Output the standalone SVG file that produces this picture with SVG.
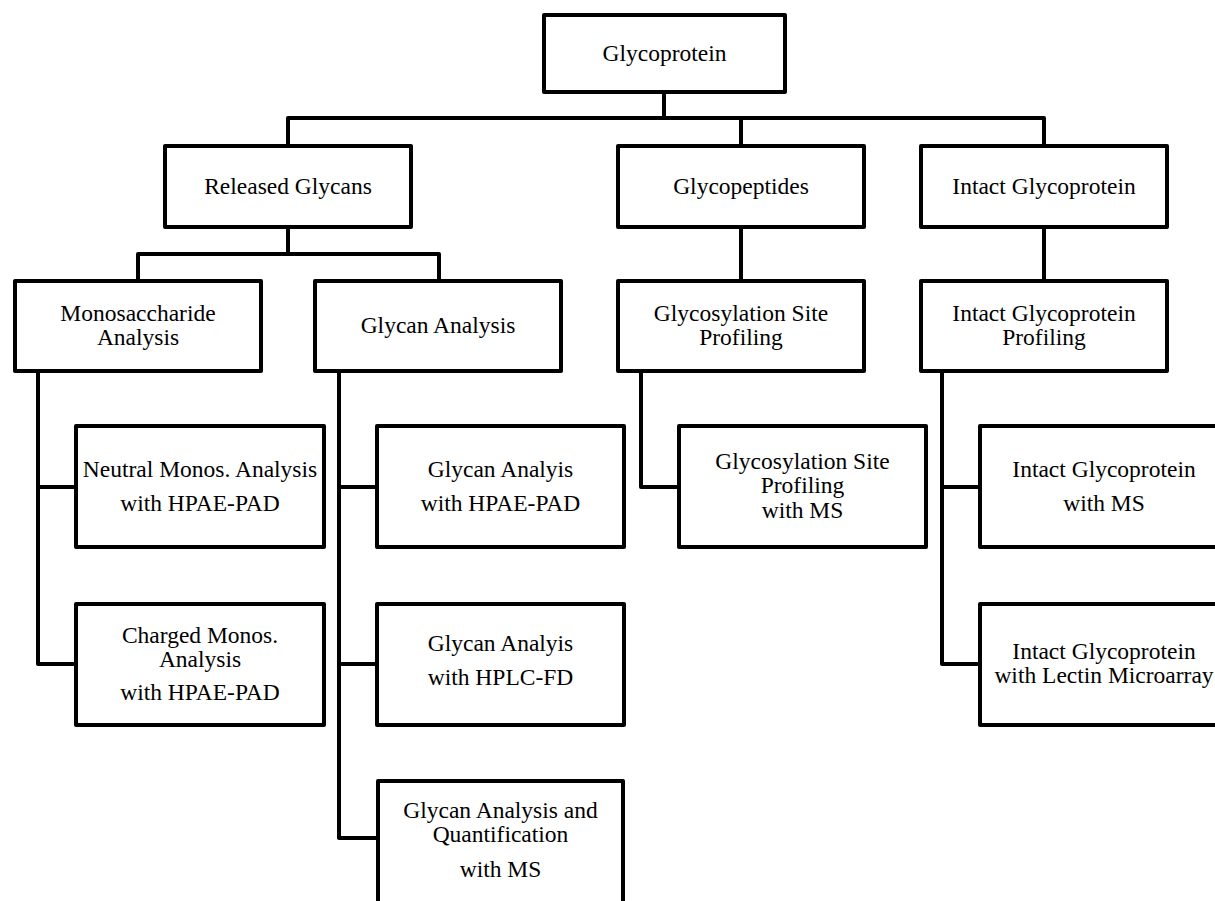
<svg xmlns="http://www.w3.org/2000/svg" width="1215" height="901" viewBox="0 0 1215 901">
<style>
.box{fill:#fff;stroke:#000;stroke-width:4;stroke-linejoin:round}
.ln{fill:none;stroke:#000;stroke-width:4;stroke-linejoin:round}
text{font-family:"Liberation Serif","Times New Roman",serif;font-size:23.5px;fill:#000;text-anchor:middle}
</style>
<rect width="1215" height="901" fill="#fff"/>
<g id="connectors" class="ln">
<path class="ln" d="M664 94V118"/>
<path class="ln" d="M288 144V118H1044V144"/>
<path class="ln" d="M741 118V144"/>
<path class="ln" d="M288 229V254"/>
<path class="ln" d="M138 279V254H439V279"/>
<path class="ln" d="M741 229V279"/>
<path class="ln" d="M1044 229V279"/>
<path class="ln" d="M38 373V664H76"/>
<path class="ln" d="M38 487H76"/>
<path class="ln" d="M339 373V838H377"/>
<path class="ln" d="M339 487H377"/>
<path class="ln" d="M339 664H377"/>
<path class="ln" d="M641 373V487H679"/>
<path class="ln" d="M942 373V664H980"/>
<path class="ln" d="M942 487H980"/>
</g>
<g id="glycoprotein"><rect class="box" x="544" y="15" width="241" height="77"/><text x="664.5" y="61">Glycoprotein</text></g>
<g id="released"><rect class="box" x="165" y="146" width="246" height="81"/><text x="288" y="194">Released Glycans</text></g>
<g id="glycopeptides"><rect class="box" x="618" y="146" width="246" height="81"/><text x="741" y="194">Glycopeptides</text></g>
<g id="intact"><rect class="box" x="921" y="146" width="246" height="81"/><text x="1044" y="194">Intact Glycoprotein</text></g>
<g id="mono"><rect class="box" x="15" y="281" width="246" height="90"/><text x="138" y="321">Monosaccharide</text><text x="138" y="345">Analysis</text></g>
<g id="glycan-analysis"><rect class="box" x="315" y="281" width="246" height="90"/><text x="438" y="333">Glycan Analysis</text></g>
<g id="gsp"><rect class="box" x="618" y="281" width="246" height="90"/><text x="741" y="321">Glycosylation Site</text><text x="741" y="345">Profiling</text></g>
<g id="igp"><rect class="box" x="921" y="281" width="246" height="90"/><text x="1044" y="321">Intact Glycoprotein</text><text x="1044" y="345">Profiling</text></g>
<g id="neutral"><rect class="box" x="76" y="426" width="248" height="121"/><text x="200" y="477">Neutral Monos. Analysis</text><text x="200" y="511">with HPAE-PAD</text></g>
<g id="charged"><rect class="box" x="76" y="604" width="248" height="121"/><text x="200" y="643">Charged Monos.</text><text x="200" y="667">Analysis</text><text x="200" y="700">with HPAE-PAD</text></g>
<g id="glycan-hpae"><rect class="box" x="377" y="426" width="247" height="121"/><text x="500.5" y="477">Glycan Analyis</text><text x="500.5" y="511">with HPAE-PAD</text></g>
<g id="glycan-hplc"><rect class="box" x="377" y="604" width="247" height="121"/><text x="500.5" y="651">Glycan Analyis</text><text x="500.5" y="685">with HPLC-FD</text></g>
<g id="glycan-ms"><rect class="box" x="378" y="781" width="245" height="140"/><text x="500.5" y="818">Glycan Analysis and</text><text x="500.5" y="842">Quantification</text><text x="500.5" y="877">with MS</text></g>
<g id="gsp-ms"><rect class="box" x="679" y="426" width="247" height="121"/><text x="802.5" y="469">Glycosylation Site</text><text x="802.5" y="493">Profiling</text><text x="802.5" y="518">with MS</text></g>
<g id="intact-ms"><rect class="box" x="980" y="426" width="248" height="121"/><text x="1104" y="477">Intact Glycoprotein</text><text x="1104" y="511">with MS</text></g>
<g id="intact-lectin"><rect class="box" x="980" y="604" width="248" height="121"/><text x="1104" y="659">Intact Glycoprotein</text><text x="1104" y="683">with Lectin Microarray</text></g>
</svg>
